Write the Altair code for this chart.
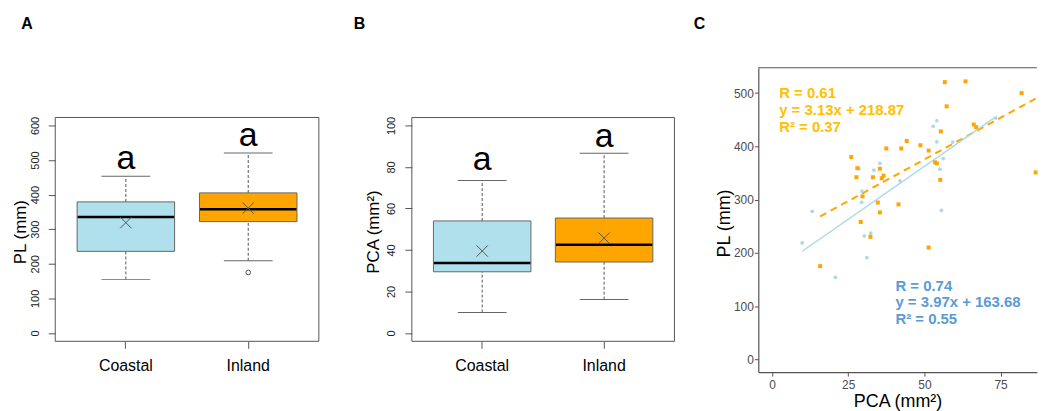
import altair as alt
import pandas as pd

FONT = "Liberation Sans"
groups = ["Coastal", "Inland"]
box_fill = ["#B0E0EC", "#FFA500"]

# ---- Panel A : PL (mm) box statistics ----
pl_q1 = [236, 322]
pl_med = [335, 357.5]
pl_q3 = [379, 405]
pl_lo = [155, 209]
pl_hi = [453, 520]
pl_mean = [319, 361]
pl_out_group = ["Inland"]
pl_out_val = [175]
pl_letters = ["a", "a"]
pl_letter_y = [474, 541]

# ---- Panel B : PCA (mm2) box statistics ----
pca_q1 = [29.5, 34.2]
pca_med = [33.7, 42.5]
pca_q3 = [54.0, 55.4]
pca_lo = [9.9, 16.1]
pca_hi = [73.5, 86.6]
pca_mean = [39.5, 45.7]
pca_out_group = []
pca_out_val = []
pca_letters = ["a", "a"]
pca_letter_y = [78.4, 89.7]

# ---- Panel C : scatter ----
coastal_pca = [9.9, 13.2, 20.8, 28.6, 29.5, 29.4, 30.3, 32.4, 31.1, 33.4,
               35.4, 42.0, 52.9, 54.1, 54.1, 55.1, 56.2, 55.6, 59.3, 73.4]
coastal_pl = [218.5, 278, 154, 358, 316, 295, 231.6, 237, 191, 355.5,
              368, 335, 437.7, 448, 408.5, 357, 377, 279.6, 408, 453]
inland_pca = [56.7, 63.5, 81.9, 57.3, 66.2, 67.0, 55.4, 44.2, 48.7, 37.5,
              42.4, 51.4, 26.0, 53.5, 54.1, 28.0, 35.4, 27.7, 33.1, 36.6,
              36.0, 55.2, 86.5, 29.7, 34.7, 41.5, 35.4, 29.1, 32.3, 51.4, 15.8]
inland_pl = [520.5, 522, 500, 475, 441, 436, 428, 410, 402, 396,
             396, 392, 380, 370, 368, 359, 358, 342, 342, 345,
             340, 337, 351, 306, 294.5, 291, 276, 258, 230, 210, 175]

fit_slope = [3.97, 3.13]
fit_intercept = [163.68, 218.87]
fit_r = ["0.74", "0.61"]
fit_r2 = ["0.55", "0.37"]
ann_x = [40.5, 2.35]
ann_y = [128.9, 490.6]
ann_step = 31.5
scatter_col = ["#ADD8E6", "#FFA500"]
text_col = ["#5B9BD5", "#FFC000"]


def panel_label(letter, dx):
    return alt.Chart(pd.DataFrame({"t": [letter]})).mark_text(
        align="left", baseline="alphabetic", fontSize=16, fontWeight="bold",
        font=FONT, color="black").encode(x=alt.value(dx), y=alt.value(-39), text="t:N")


def box_panel(q1, med, q3, lo, hi, mean, og, ov, letters, letter_y,
              ydom, ytop, yvals, ytitle, letter, dx, title_x, width, height):
    stats = pd.DataFrame({"group": groups, "q1": q1, "med": med, "q3": q3,
                          "lo": lo, "hi": hi, "mean": mean,
                          "letter": letters, "ly": letter_y})
    whisk = pd.DataFrame({
        "group": groups + groups,
        "a": list(q3) + list(lo),
        "b": list(hi) + list(q1),
    })
    caps = pd.DataFrame({"group": groups + groups, "v": list(hi) + list(lo)})
    outl = pd.DataFrame({"group": og, "v": ov})
    border = pd.DataFrame({"b0": [ydom[0]], "b1": [ytop]})

    xaxis = alt.Axis(title=None, labelAngle=0, labelFontSize=16, labelColor="black",
                     labelFont=FONT, tickSize=7, tickColor="#555", domain=False,
                     labelPadding=9.5)
    xs = alt.Scale(domain=groups, paddingInner=0, paddingOuter=0.077)
    X = alt.X("group:N", scale=xs, axis=xaxis, title=None)
    ys = alt.Scale(domain=ydom, nice=False, zero=False)
    yaxis = alt.Axis(values=yvals, grid=False, domain=False, tickSize=7, tickColor="#555",
                     labelAngle=270, labelAlign="center", labelBaseline="bottom",
                     labelFontSize=11, labelColor="#222", labelFont=FONT, labelPadding=8,
                     titleFontSize=17, titleFontWeight="normal", titleColor="black",
                     titleFont=FONT, titleBaseline="middle", titleAlign="center",
                     titleX=title_x, titleY=164.7)

    def Y(f):
        return alt.Y(f, scale=ys, axis=yaxis, title=ytitle)

    rect = alt.Chart(border).mark_rect(fillOpacity=0, stroke="#555", strokeWidth=1).encode(
        x=alt.value(0), x2=alt.value(width), y=Y("b0:Q"), y2="b1:Q")
    wh = alt.Chart(whisk).mark_rule(color="#555", strokeDash=[3, 2], strokeWidth=1).encode(
        x=X, y=Y("a:Q"), y2="b:Q")
    cp = alt.Chart(caps).mark_tick(size=49, thickness=1, color="#666", opacity=1).encode(
        x=X, y=Y("v:Q"))
    bx = alt.Chart(stats).mark_bar(size=98, stroke="#666", strokeWidth=1, opacity=1).encode(
        x=X, y=Y("q1:Q"), y2="q3:Q",
        color=alt.Color("group:N", scale=alt.Scale(domain=groups, range=box_fill), legend=None))
    md = alt.Chart(stats).mark_tick(size=97, thickness=2.5, color="#000", opacity=1).encode(
        x=X, y=Y("med:Q"))
    mn = alt.Chart(stats).mark_point(shape="M-1,-1L1,1M-1,1L1,-1", size=130, filled=False,
                                     stroke="#555", strokeWidth=1, opacity=1).encode(
        x=X, y=Y("mean:Q"))
    lt = alt.Chart(stats).mark_text(fontSize=34, font=FONT, baseline="alphabetic",
                                    color="black").encode(x=X, y=Y("ly:Q"), text="letter:N")
    layers = [rect, wh, cp, bx, md, mn, lt]
    if len(og):
        ot = alt.Chart(outl).mark_point(shape="circle", filled=False, size=22, stroke="#555",
                                        strokeWidth=1, opacity=1).encode(x=X, y=Y("v:Q"))
        layers.append(ot)
    layers.append(panel_label(letter, dx))
    return alt.layer(*layers).properties(width=width, height=height)


A = box_panel(pl_q1, pl_med, pl_q3, pl_lo, pl_hi, pl_mean, pl_out_group, pl_out_val,
              pl_letters, pl_letter_y, [-24, 766.7], 623, [0, 100, 200, 300, 400, 500, 600],
              "PL (mm)", "A", -34.3, -35.3, 265, 275)
B = box_panel(pca_q1, pca_med, pca_q3, pca_lo, pca_hi, pca_mean, pca_out_group, pca_out_val,
              pca_letters, pca_letter_y, [-4, 127.8], 103.8, [0, 20, 40, 60, 80, 100],
              "PCA (mm²)", "B", -58.4, -38.4, 264, 275)

# ---- Panel C ----
pts = pd.DataFrame({
    "group": ["Coastal"] * len(coastal_pca) + ["Inland"] * len(inland_pca),
    "pca": coastal_pca + inland_pca,
    "pl": coastal_pl + inland_pl,
})
fits = pd.DataFrame({
    "group": groups + groups,
    "pca": [min(coastal_pca), min(inland_pca), max(coastal_pca), max(inland_pca)],
    "slope": fit_slope + fit_slope,
    "intercept": fit_intercept + fit_intercept,
})
ann_rows = []
for i, g in enumerate(groups):
    lines = [f"R = {fit_r[i]}", f"y = {fit_slope[i]:.2f}x + {fit_intercept[i]:.2f}",
             f"R² = {fit_r2[i]}"]
    for k, t in enumerate(lines):
        ann_rows.append({"group": g, "line": t, "ax": ann_x[i],
                         "ay": ann_y[i] - k * ann_step, "tc": text_col[i], "k": k})
ann = pd.DataFrame(ann_rows)

WC, HC = 280, 306
xsC = alt.Scale(domain=[-4.5, 86.9], nice=False, zero=False)
ysC = alt.Scale(domain=[-24, 547.5], nice=False, zero=False)
xaxC = alt.Axis(values=[0, 25, 50, 75], grid=False, domainColor="#555", domainWidth=1.2,
                tickColor="#555", tickSize=4, labelColor="#4D4D4D", labelFontSize=12,
                labelFont=FONT, labelPadding=3.5, titleFontSize=18, titleFontWeight="normal",
                titleColor="black", titleFont=FONT, titleBaseline="middle", titleY=30)
yaxC = alt.Axis(values=[0, 100, 200, 300, 400, 500], grid=False, domainColor="#555",
                domainWidth=1.2, tickColor="#555", tickSize=4, labelColor="#4D4D4D",
                labelFontSize=12, labelFont=FONT, labelPadding=1, titleFontSize=18,
                titleFontWeight="normal", titleColor="black", titleFont=FONT,
                titleBaseline="middle", titleAlign="center", titleX=-34.2, titleY=156)
XC = alt.X("pca:Q", scale=xsC, axis=xaxC, title="PCA (mm²)")
YC = alt.Y("pl:Q", scale=ysC, axis=yaxC, title="PL (mm)")

c_pts = alt.Chart(pts).transform_filter("datum.group == 'Coastal'").mark_circle(
    size=14, color=scatter_col[0], opacity=1).encode(x=XC, y=YC)
i_pts = alt.Chart(pts).transform_filter("datum.group == 'Inland'").mark_square(
    size=16, color=scatter_col[1], opacity=1).encode(x=XC, y=YC)
c_fit = alt.Chart(fits).transform_filter("datum.group == 'Coastal'").transform_calculate(
    pl="datum.slope * datum.pca + datum.intercept").mark_line(
    color=scatter_col[0], strokeWidth=1.5).encode(x=XC, y=YC)
i_fit = alt.Chart(fits).transform_filter("datum.group == 'Inland'").transform_calculate(
    pl="datum.slope * datum.pca + datum.intercept").mark_line(
    color=scatter_col[1], strokeWidth=2, strokeDash=[7, 5]).encode(x=XC, y=YC)
txt = alt.Chart(ann).mark_text(align="left", baseline="alphabetic", fontSize=15,
                               fontWeight="bold", font=FONT).encode(
    x=alt.X("ax:Q", scale=xsC, axis=xaxC, title="PCA (mm²)"),
    y=alt.Y("ay:Q", scale=ysC, axis=yaxC, title="PL (mm)"),
    text="line:N", color=alt.Color("tc:N", scale=None))
top_line = alt.Chart(pd.DataFrame({"k": [0]})).mark_rule(color="#555", strokeWidth=1.2).encode(
    x=alt.value(0), x2=alt.value(WC), y=alt.value(0))

C = alt.layer(top_line, i_fit, c_fit, c_pts, i_pts, txt, panel_label("C", -65)).properties(
    width=WC, height=HC)

chart = alt.hconcat(alt.hconcat(A, B, spacing=33.5), C, spacing=18.8).properties(
    padding={"left": 2.5, "top": 7, "right": 0, "bottom": 0}
).configure(font=FONT).configure_view(stroke=None)

chart.save("out.html", embed_options={"renderer": "svg", "actions": False})
